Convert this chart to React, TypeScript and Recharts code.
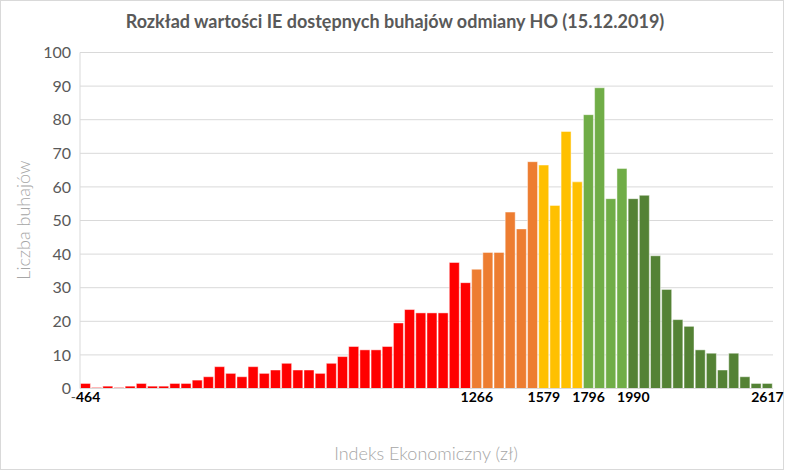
import React from "react";
import { BarChart, Bar, XAxis, YAxis, CartesianGrid, Cell } from "recharts";

// Number of bulls per IE bin
const counts = [
  1.5, 0.3, 0.7, 0.3, 0.7, 1.5, 0.7, 0.7, 1.5, 1.5, 2.5, 3.5, 6.5, 4.5, 3.5, 6.5, 4.5, 5.5, 7.5, 5.5,
  5.5, 4.5, 7.5, 9.5, 12.5, 11.5, 11.5, 12.5, 19.5, 23.5, 22.5, 22.5, 22.5, 37.5, 31.5,
  35.5, 40.5, 40.5, 52.5, 47.5, 67.5,
  66.5, 54.5, 76.5, 61.5,
  81.5, 89.5, 56.5, 65.5,
  56.5, 57.5, 39.5, 29.5, 20.5, 18.5, 11.5, 10.5, 5.5, 10.5, 3.5, 1.5, 1.5,
];

// Bin index where each colour group ends (exclusive)
const groupEnds = [35, 41, 45, 49, 62];

// X tick labels and the bins they sit under
const tickIndex = [0, 35, 41, 45, 49, 61];
const tickLabels = ["-464", "1266", "1579", "1796", "1990", "2617"];

const yTicks = [0, 10, 20, 30, 40, 50, 60, 70, 80, 90, 100];

const title = "Rozkład wartości IE dostępnych buhajów odmiany HO (15.12.2019)";
const xTitle = "Indeks Ekonomiczny (zł)";
const yTitle = "Liczba buhajów";

const groupColors = ["#FF0000", "#ED7D31", "#FFC000", "#70AD47", "#548235"];

const data = counts.map((c, i) => ({ idx: i, count: c }));

const colorFor = (i: number) => {
  const g = groupEnds.findIndex((e) => i < e);
  return groupColors[g < 0 ? groupColors.length - 1 : g];
};

const FONT = "Lato, 'Open Sans', sans-serif";

const XTick = (props: any) => {
  const { x, y, payload } = props;
  const pos = tickIndex.indexOf(payload.value);
  if (pos < 0) return null;
  const label = tickLabels[pos];
  const neg = label.startsWith("-");
  return (
    <text x={x} y={y} dy="0.71em" textAnchor="middle" fontFamily={FONT} fontSize={14} fontWeight={700} fill="#000">
      {neg ? (
        <>
          <tspan fill="#595959" fontWeight={400}>-</tspan>
          <tspan>{label.slice(1)}</tspan>
        </>
      ) : (
        label
      )}
    </text>
  );
};

export default function App() {
  return (
    <div style={{ position: "absolute", left: 0, top: 0, width: 792, height: 470, background: "#fff", fontFamily: FONT }}>
      <div
        style={{
          position: "absolute",
          left: 0,
          top: 0,
          width: 784,
          height: 470,
          boxSizing: "border-box",
          border: "1px solid #d9d9d9",
        }}
      />
      <div
        style={{
          position: "absolute",
          left: 0,
          width: 790,
          top: 9,
          textAlign: "center",
          fontSize: 18,
          fontWeight: 700,
          color: "#595959",
          lineHeight: "24px",
        }}
      >
        {title}
      </div>
      <div
        style={{
          position: "absolute",
          left: 226,
          width: 400,
          top: 441,
          textAlign: "center",
          fontSize: 18,
          fontWeight: 300,
          color: "#a6a6a6",
          lineHeight: "24px",
        }}
      >
        {xTitle}
      </div>
      <div
        style={{
          position: "absolute",
          left: 23 - 100,
          top: 220 - 12,
          width: 200,
          textAlign: "center",
          fontSize: 18,
          fontWeight: 300,
          color: "#a6a6a6",
          lineHeight: "24px",
          transform: "rotate(-90deg)",
        }}
      >
        {yTitle}
      </div>
      <div style={{ position: "absolute", left: 0, top: 0 }}>
        <BarChart
          width={792}
          height={470}
          data={data}
          margin={{ top: 52.5, right: 19, bottom: 51.5, left: 20 }}
          barCategoryGap="4%"
        >
          <CartesianGrid horizontal vertical={false} stroke="#d9d9d9" strokeWidth={1} />
          <XAxis
            dataKey="idx"
            type="category"
            ticks={tickIndex}
            interval={0}
            tick={<XTick />}
            tickLine={false}
            tickSize={0}
            tickMargin={4}
            axisLine={{ stroke: "#d9d9d9" }}
            height={30}
          />
          <YAxis
            domain={[0, 100]}
            ticks={yTicks}
            interval={0}
            width={60}
            tickLine={false}
            tickSize={0}
            tickMargin={9}
            axisLine={{ stroke: "#d9d9d9" }}
            tick={{ fill: "#595959", fontSize: 16, fontFamily: FONT }}
          />
          <Bar dataKey="count" isAnimationActive={false} stroke="#ffffff" strokeOpacity={0.45} strokeWidth={1}>
            {data.map((d, i) => (
              <Cell key={i} fill={colorFor(i)} />
            ))}
          </Bar>
        </BarChart>
      </div>
    </div>
  );
}
